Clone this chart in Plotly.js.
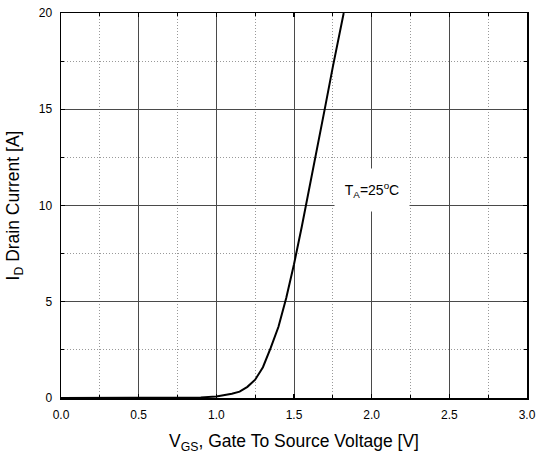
<!DOCTYPE html>
<html><head><meta charset="utf-8">
<script src="https://cdn.plot.ly/plotly-3.0.1.min.js"></script>
<style>body{margin:0;background:#fff}#c{width:537px;height:459px}</style>
</head><body><div id="c"></div>
<script>
const vgs = [0, 0.1, 0.2, 0.3, 0.4, 0.5, 0.6, 0.7, 0.8, 0.9, 1.0, 1.05, 1.1, 1.15, 1.2, 1.25, 1.3, 1.35, 1.4, 1.45, 1.5, 1.55, 1.6, 1.65, 1.7, 1.75, 1.8, 1.82];
const idrain = [0, 0, 0.01, 0, 0.01, 0, 0.01, 0, 0.02, 0.03, 0.08, 0.14, 0.22, 0.33, 0.58, 0.95, 1.6, 2.6, 3.7, 5.2, 6.95, 8.9, 10.9, 13.0, 15.1, 17.2, 19.3, 20];
const xTicks = [0, 0.5, 1.0, 1.5, 2.0, 2.5, 3.0];
const xTickText = ['0.0', '0.5', '1.0', '1.5', '2.0', '2.5', '3.0'];
const yTicks = [0, 5, 10, 15, 20];
const annText = 'T<sub>A</sub>=25<sup>o</sup>C';

const font = 'Liberation Sans, Arial, sans-serif';
const axisCommon = {
  showline: true, linecolor: '#000', linewidth: 1.5, mirror: 'ticks',
  ticks: 'inside', ticklen: 4, tickcolor: '#000', tickwidth: 1.2,
  showgrid: true, gridcolor: '#4a4a4a', gridwidth: 1, zeroline: false,
  ticklabelstandoff: 5,
  tickfont: {family: font, size: 12, color: '#000'}
};
const minorCommon = {showgrid: true, gridcolor: '#999', griddash: '1px,2px', gridwidth: 1, ticks: 'inside', ticklen: 3, tickcolor: '#000'};
Plotly.newPlot('c', [{
  x: vgs, y: idrain, type: 'scatter', mode: 'lines',
  line: {color: '#000', width: 2}, hoverinfo: 'skip'
}], {
  width: 537, height: 459,
  margin: {l: 61, r: 10, t: 13, b: 61},
  paper_bgcolor: '#fff', plot_bgcolor: '#fff',
  showlegend: false,
  xaxis: Object.assign({}, axisCommon, {
    range: [0, 3], tickvals: xTicks, ticktext: xTickText,
    minor: Object.assign({dtick: 0.25, tick0: 0}, minorCommon),
    title: {text: 'V<sub>GS</sub>, Gate To Source Voltage [V]', font: {family: font, size: 17.5, color: '#000'}, standoff: 14}
  }),
  yaxis: Object.assign({}, axisCommon, {
    range: [0, 20], tickvals: yTicks,
    minor: Object.assign({dtick: 2.5, tick0: 0}, minorCommon),
    title: {text: 'I<sub>D</sub> Drain Current [A]', font: {family: font, size: 17.5, color: '#000'}, standoff: 14}
  }),
  annotations: [{
    x: 2.0, y: 10.8, xref: 'x', yref: 'y', text: annText, showarrow: false,
    font: {family: font, size: 14, color: '#000'},
    bgcolor: '#fff', width: 72, height: 40
  }]
}, {staticPlot: true});
</script></body></html>
